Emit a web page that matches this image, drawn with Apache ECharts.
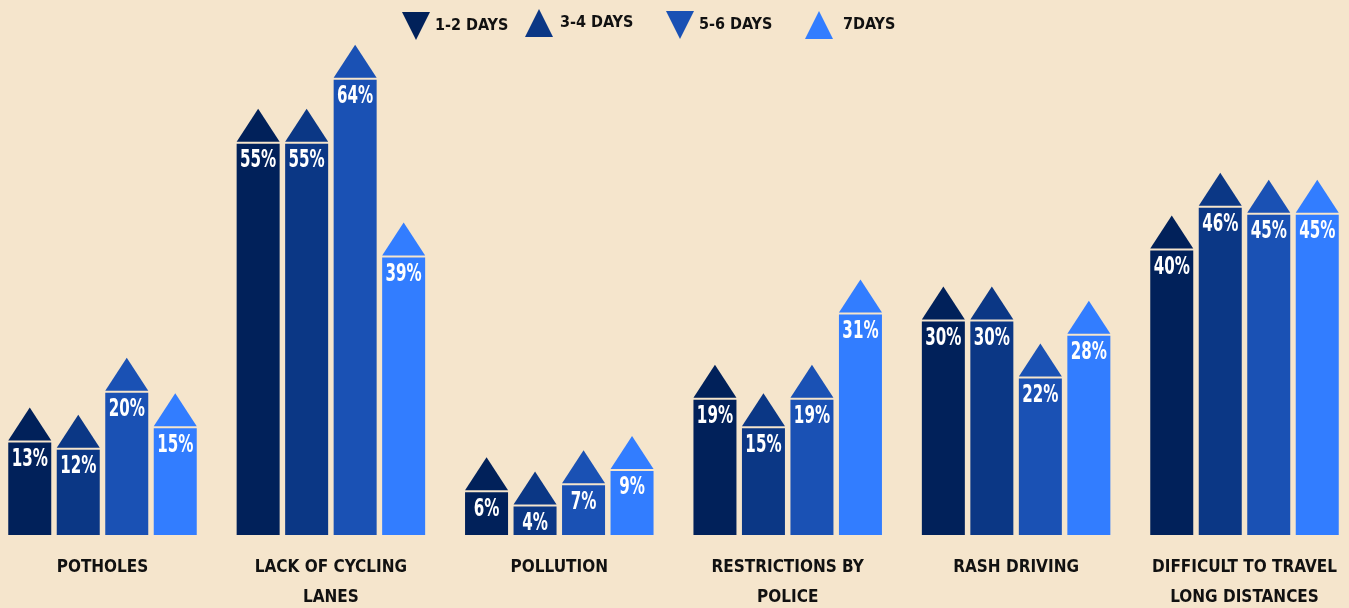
<!DOCTYPE html>
<html>
<head>
<meta charset="utf-8">
<script src="https://cdn.jsdelivr.net/npm/echarts@6/dist/echarts.min.js"></script>
<style>
html,body{margin:0;padding:0;background:#F5E5CC;}
#chart{width:1349px;height:608px;}
</style>
</head>
<body>
<div id="chart"></div>
<script>
const categories = ['POTHOLES', 'LACK OF CYCLING\nLANES', 'POLLUTION', 'RESTRICTIONS BY\nPOLICE', 'RASH DRIVING', 'DIFFICULT TO TRAVEL\nLONG DISTANCES'];
const seriesNames = ['1-2 DAYS', '3-4 DAYS', '5-6 DAYS', '7DAYS'];
const days12 = [13, 55, 6, 19, 30, 40];
const days34 = [12, 55, 4, 15, 30, 46];
const days56 = [20, 64, 7, 19, 22, 45];
const days7 = [15, 39, 9, 31, 28, 45];
const colors = ['#01215A', '#0B3785', '#1A51B4', '#327DFF'];

const FONT = "'DejaVu Sans Condensed', 'Liberation Sans Narrow', sans-serif";
const BAR_W = 43, PITCH = 48.5, NSER = 4;

function makeRender(sIdx) {
  return function (params, api) {
    const ci = api.value(0), v = api.value(1);
    const top = api.coord([ci, v]);
    const base = api.coord([ci, 0]);
    const groupW = BAR_W + PITCH * (NSER - 1);
    const x = top[0] - groupW / 2 + sIdx * PITCH;
    const c = api.visual('color');
    return {
      type: 'group',
      children: [
        { type: 'rect', shape: { x: x, y: top[1], width: BAR_W, height: base[1] - top[1] }, style: { fill: c } },
        { type: 'polygon', shape: { points: [[x, top[1] - 2], [x + BAR_W, top[1] - 2], [x + BAR_W / 2, top[1] - 35]] }, style: { fill: c } },
        { type: 'text', x: x + BAR_W / 2, y: top[1] + 17, scaleX: 0.8, scaleY: 1.18, z2: 10,
          style: { text: v + '%', x: 0, y: 0, fill: '#ffffff', font: 'bold 21px ' + FONT, align: 'center', verticalAlign: 'middle' } }
      ]
    };
  };
}

const allData = [days12, days34, days56, days7];
const series = allData.map((arr, i) => ({
  type: 'custom',
  name: seriesNames[i],
  itemStyle: { color: colors[i] },
  renderItem: makeRender(i),
  encode: { x: 0, y: 1 },
  data: arr.map((v, ci) => [ci, v])
}));

const downIcon = 'path://M0,0 L10,0 L5,10 Z';
const upIcon = 'path://M5,0 L10,10 L0,10 Z';
const legendLefts = [402, 525, 666, 805];
const legendTops = [12, 9, 11, 11];
const legendIcons = [downIcon, upIcon, downIcon, upIcon];
const legendPad = [0, 2, 0, 5];
const legends = seriesNames.map((n, i) => ({
  data: [{ name: n, icon: legendIcons[i] }],
  left: legendLefts[i], top: legendTops[i],
  itemWidth: 28, itemHeight: 28, padding: 0,
  selectedMode: false,
  textStyle: { color: '#111', fontFamily: FONT, fontWeight: 'bold', fontSize: 16, padding: [0, 0, 0, legendPad[i]] }
}));

const chart = echarts.init(document.getElementById('chart'));
chart.setOption({
  backgroundColor: '#F5E5CC',
  color: colors,
  animation: false,
  legend: legends,
  grid: { left: 102.5, right: 104.5, top: 37, bottom: 73, containLabel: false, outerBoundsMode: 'none' },
  xAxis: {
    type: 'category', data: categories, boundaryGap: false,
    axisLine: { show: false }, axisTick: { show: false }, splitLine: { show: false },
    axisLabel: { color: '#111', fontFamily: FONT, fontWeight: 'bold', fontSize: 17, lineHeight: 30, margin: 18, interval: 0 }
  },
  yAxis: { type: 'value', min: 0, max: 70, show: false, splitLine: { show: false } },
  series: series
});
</script>
</body>
</html>
